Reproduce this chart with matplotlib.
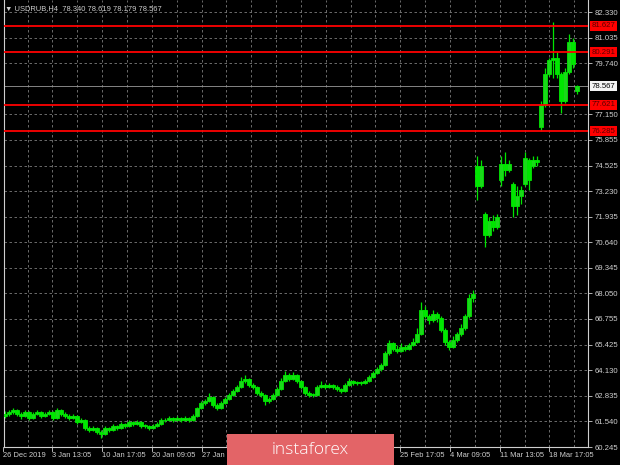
import matplotlib
matplotlib.use("Agg")
import matplotlib.pyplot as plt
from matplotlib.patches import Rectangle
import matplotlib.transforms as mtransforms

# H4 candles (one bar every 4 px)
opens = [61.80, 61.90, 62.00, 62.10, 61.90, 61.80, 62.00, 61.70, 61.90, 62.00,
         61.80, 61.90, 62.00, 61.70, 62.10, 61.90, 61.80, 61.70, 61.80, 61.50,
         61.60, 61.20, 61.10, 61.20, 61.00, 60.90, 61.20, 61.10, 61.30, 61.20,
         61.40, 61.30, 61.50, 61.40, 61.50, 61.30, 61.30, 61.20, 61.30, 61.40,
         61.60, 61.60, 61.70, 61.60, 61.70, 61.60, 61.70, 61.60, 61.80, 62.20,
         62.50, 62.60, 62.80, 62.40, 62.20, 62.50, 62.70, 62.90, 63.10, 63.30,
         63.60, 63.70, 63.40, 63.30, 63.00, 62.90, 62.60, 62.70, 62.90, 63.20,
         63.60, 63.90, 63.70, 63.90, 63.60, 63.30, 63.00, 62.90, 62.90, 63.30,
         63.40, 63.30, 63.40, 63.30, 63.20, 63.10, 63.40, 63.60, 63.50, 63.50,
         63.50, 63.60, 63.80, 64.00, 64.20, 64.40, 65.00, 65.50, 65.20, 65.10,
         65.30, 65.20, 65.40, 65.60, 66.00, 67.20, 66.90, 66.70, 67.00, 66.80,
         66.20, 65.60, 65.30, 65.70, 66.00, 66.30, 66.90, 67.80, 74.50, 73.50,
         72.10, 71.00, 71.70, 71.40, 73.80, 74.60, 74.30, 73.60, 72.50, 73.00,
         73.60, 74.80, 74.50, 74.80, 76.50, 77.60, 79.20, 79.90, 80.00, 79.20,
         77.80, 79.30, 80.80, 78.340]
highs = [62.05, 62.10, 62.20, 62.15, 62.00, 62.10, 62.05, 62.00, 62.10, 62.05,
         62.00, 62.10, 62.05, 62.20, 62.15, 62.00, 61.90, 61.90, 61.85, 61.70,
         61.65, 61.30, 61.30, 61.25, 61.10, 61.30, 61.25, 61.40, 61.35, 61.50,
         61.45, 61.60, 61.55, 61.60, 61.55, 61.40, 61.35, 61.40, 61.50, 61.70,
         61.70, 61.80, 61.75, 61.80, 61.75, 61.80, 61.75, 61.90, 62.30, 62.60,
         62.70, 63.00, 62.85, 62.50, 62.60, 62.80, 63.00, 63.20, 63.40, 63.80,
         63.90, 63.75, 63.50, 63.35, 63.10, 62.95, 62.80, 63.00, 63.30, 63.75,
         64.10, 64.00, 64.05, 63.95, 63.65, 63.35, 63.10, 63.00, 63.40, 63.60,
         63.50, 63.50, 63.45, 63.40, 63.25, 63.50, 63.75, 63.65, 63.60, 63.60,
         63.70, 63.90, 64.10, 64.30, 64.50, 65.10, 65.70, 65.60, 65.40, 65.50,
         65.40, 65.50, 65.80, 66.30, 67.60, 67.40, 67.00, 67.20, 67.10, 66.90,
         66.30, 65.70, 65.90, 66.10, 66.50, 67.00, 68.00, 68.20, 75.00, 74.80,
         72.20, 71.90, 72.00, 72.10, 75.00, 75.20, 74.80, 73.70, 73.50, 73.50,
         75.20, 74.90, 75.00, 75.00, 77.80, 79.50, 80.00, 81.80, 80.30, 79.30,
         79.50, 81.20, 81.00, 78.619]
lows = [61.70, 61.80, 61.90, 61.80, 61.65, 61.75, 61.60, 61.65, 61.85, 61.70,
        61.75, 61.85, 61.60, 61.65, 61.80, 61.70, 61.60, 61.65, 61.40, 61.45,
        61.10, 61.00, 61.05, 60.90, 60.70, 60.85, 61.00, 61.05, 61.10, 61.15,
        61.20, 61.25, 61.30, 61.35, 61.20, 61.20, 61.10, 61.15, 61.25, 61.35,
        61.50, 61.55, 61.50, 61.55, 61.50, 61.55, 61.50, 61.55, 61.75, 62.15,
        62.40, 62.55, 62.30, 62.10, 62.15, 62.45, 62.65, 62.85, 63.05, 63.25,
        63.50, 63.30, 63.20, 62.90, 62.80, 62.40, 62.50, 62.65, 62.85, 63.15,
        63.55, 63.60, 63.65, 63.50, 63.20, 62.90, 62.80, 62.80, 62.85, 63.25,
        63.20, 63.25, 63.20, 63.10, 63.00, 63.05, 63.35, 63.40, 63.40, 63.40,
        63.45, 63.55, 63.75, 63.95, 64.10, 64.35, 64.90, 65.10, 65.00, 65.05,
        65.10, 65.15, 65.35, 65.55, 65.95, 66.80, 66.50, 66.60, 66.60, 66.10,
        65.40, 65.15, 65.25, 65.60, 65.90, 66.20, 66.80, 67.60, 72.80, 73.40,
        70.40, 70.90, 71.20, 71.30, 73.50, 74.00, 74.20, 71.90, 72.00, 72.60,
        73.50, 73.30, 74.40, 74.50, 76.30, 77.50, 79.10, 79.00, 79.00, 77.20,
        77.70, 79.20, 79.50, 78.179]
closes = [61.90, 62.00, 62.10, 61.90, 61.80, 62.00, 61.70, 61.90, 62.00, 61.80,
          61.90, 62.00, 61.70, 62.10, 61.90, 61.80, 61.70, 61.80, 61.50, 61.60,
          61.20, 61.10, 61.20, 61.00, 60.90, 61.20, 61.10, 61.30, 61.20, 61.40,
          61.30, 61.50, 61.40, 61.50, 61.30, 61.30, 61.20, 61.30, 61.40, 61.60,
          61.60, 61.70, 61.60, 61.70, 61.60, 61.70, 61.60, 61.80, 62.20, 62.50,
          62.60, 62.80, 62.40, 62.20, 62.50, 62.70, 62.90, 63.10, 63.30, 63.60,
          63.70, 63.40, 63.30, 63.00, 62.90, 62.60, 62.70, 62.90, 63.20, 63.60,
          63.90, 63.70, 63.90, 63.60, 63.30, 63.00, 62.90, 62.90, 63.30, 63.40,
          63.30, 63.40, 63.30, 63.20, 63.10, 63.40, 63.60, 63.50, 63.50, 63.50,
          63.60, 63.80, 64.00, 64.20, 64.40, 65.00, 65.50, 65.20, 65.10, 65.30,
          65.20, 65.40, 65.60, 66.00, 67.20, 66.90, 66.70, 67.00, 66.80, 66.20,
          65.60, 65.30, 65.70, 66.00, 66.30, 66.90, 67.80, 68.00, 73.50, 74.50,
          71.00, 71.70, 71.40, 71.90, 74.60, 74.30, 74.60, 72.50, 73.00, 73.30,
          74.90, 73.80, 74.80, 74.70, 77.60, 79.20, 79.90, 80.00, 79.20, 77.80,
          79.30, 80.80, 79.70, 78.567]

price_labels = [82.330, 81.035, 79.740, 77.150, 75.855, 74.525, 73.230, 71.935,
                70.640, 69.345, 68.050, 66.755, 65.425, 64.130, 62.835, 61.540, 60.245]
level_lines = [81.627, 80.291, 77.621, 76.285]
last_price = 78.567
time_labels = ["26 Dec 2019", "3 Jan 13:05", "10 Jan 17:05", "20 Jan 09:05",
               "27 Jan 13:05", "", "", "",
               "25 Feb 17:05", "4 Mar 09:05", "11 Mar 13:05", "18 Mar 17:05"]
header = "\u25bc USDRUB,H4  78.340 78.619 78.179 78.567"

GREEN = "#00e600"
BODY_UP = "#1ad81a"
GRID = "#7c7c7c"
AXC = "#cfcfcf"
FONT = ["Liberation Sans", "DejaVu Sans"]

fig = plt.figure(figsize=(6.2, 4.65), dpi=100, facecolor="black")
ax = fig.add_axes([3.5 / 620, 18 / 465, 584.5 / 620, 447 / 465])
ax.set_facecolor("black")

ax.set_xlim(-0.375, 145.75)
ax.set_ylim(60.245, 82.94)

# grid (every ~24.85 px, like the terminal)
for k in range(1, 24):
    gx = (2.7 + 24.85 * k - 5) / 4
    ax.axvline(gx, color=GRID, lw=0.6, ls=(0, (3, 3)), zorder=0)
for p in price_labels:
    ax.axhline(p, color=GRID, lw=0.6, ls=(0, (3, 3)), zorder=0)

# candles
for i in range(len(closes)):
    o, h, l, c = opens[i], highs[i], lows[i], closes[i]
    ax.vlines(i, l, h, color=GREEN, lw=0.9, zorder=2)
    bottom = min(o, c)
    height = max(abs(c - o), 0.04)
    face = BODY_UP if c >= o else GREEN
    ax.add_patch(Rectangle((i - 0.38, bottom), 0.76, height, facecolor=face,
                           edgecolor=GREEN, lw=0.6, zorder=3))

# horizontal level lines
for lv in level_lines:
    ax.axhline(lv, color="#ff0000", lw=1.3, zorder=4)
ax.axhline(last_price, color="#9a9a9a", lw=0.6, zorder=1)

# spines
ax.spines["top"].set_visible(False)
for s in ["left", "bottom", "right"]:
    ax.spines[s].set_color(AXC)
    ax.spines[s].set_linewidth(0.8)

# right price scale
ax.yaxis.tick_right()
ax.set_yticks(price_labels)
ax.set_yticklabels([f"{p:.3f}" for p in price_labels])
ax.tick_params(axis="y", colors=AXC, labelsize=5.6, length=3, width=0.6, pad=1.5)
for t in ax.get_yticklabels():
    t.set_family(FONT)
ax.set_xticks([])

# boxed labels for the levels and the last price
for lv in level_lines:
    ax.text(1.006, lv, f"{lv:.3f}", transform=ax.get_yaxis_transform(),
            ha="left", va="center", fontsize=5.6, color="#5a0000", family=FONT,
            bbox=dict(boxstyle="square,pad=0.2", fc="#ff0000", ec="none"),
            clip_on=False, zorder=6)
ax.text(1.006, last_price, f"{last_price:.3f}", transform=ax.get_yaxis_transform(),
        ha="left", va="center", fontsize=5.6, color="black", family=FONT,
        bbox=dict(boxstyle="square,pad=0.2", fc="#f4f4f4", ec="none"),
        clip_on=False, zorder=6)

# time scale
trans = mtransforms.blended_transform_factory(ax.transData, ax.transAxes)
for j, lab in enumerate(time_labels):
    gx = (2.7 + 24.85 * 2 * j - 5) / 4
    ax.plot([gx, gx], [0, -0.008], transform=trans, color=AXC, lw=0.6, clip_on=False)
    if lab:
        ax.text(gx, -0.011, lab, transform=trans, ha="left", va="top",
                fontsize=5.4, color=AXC, family=FONT, clip_on=False)

# header
fig.text(5 / 620, 1 - 9 / 465, header, ha="left", va="center", fontsize=5.4,
         color=AXC, family=FONT)

# watermark
fig.patches.append(Rectangle((227 / 620, 0), 167 / 620, 31 / 465, transform=fig.transFigure,
                             facecolor="#e36467", edgecolor="none", zorder=10))
fig.text(310 / 620, 15 / 465, "instaforex", ha="center", va="center", fontsize=12.5,
         color="white", family=["Open Sans", "DejaVu Sans"], fontweight="light", zorder=11)

fig.savefig("out.png", dpi=100, facecolor="black")
